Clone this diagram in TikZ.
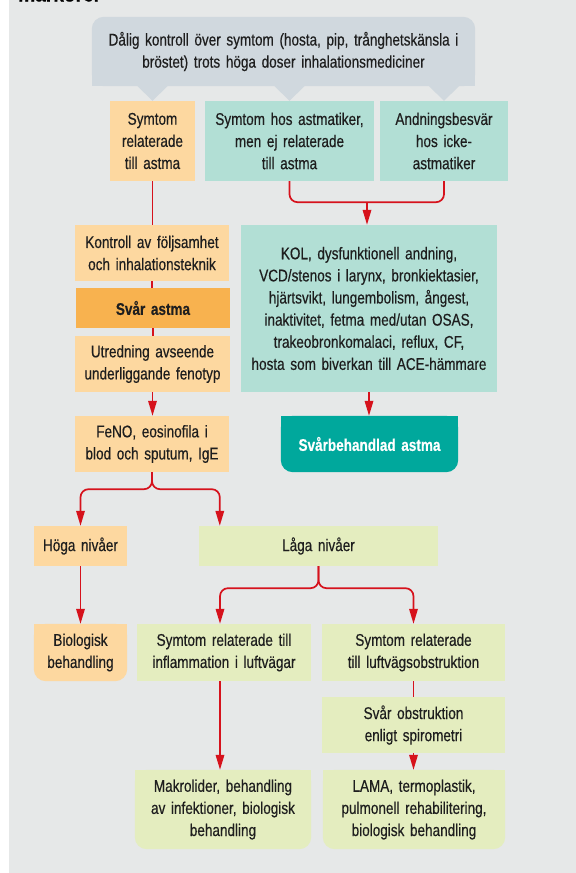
\documentclass[tikz,border=0pt]{standalone}
\usepackage{fontspec}
\setmainfont{Liberation Sans}[FakeStretch=0.8,FakeBold=0.4,WordSpace=0.75]
\usetikzlibrary{arrows.meta,backgrounds}
\definecolor{bggray}{HTML}{E6E8E8}
\definecolor{bubble}{HTML}{D0D8DE}
\definecolor{peach}{HTML}{FDD8A0}
\definecolor{amber}{HTML}{F8B24F}
\definecolor{mint}{HTML}{B2DFD5}
\definecolor{sea}{HTML}{00A89C}
\definecolor{lime}{HTML}{E4EDBF}
\definecolor{linkred}{HTML}{D6121C}
\definecolor{ink}{HTML}{1E1E1E}
\begin{document}
\begin{tikzpicture}[x=1bp,y=-1bp,
    box/.style 2 args={inner sep=2bp,align=center,text=ink,
      minimum width=#1bp,minimum height=#2bp,text width=\dimexpr#1bp-4bp\relax,
      font=\fontsize{17}{22.2}\selectfont},
    link/.style={draw=linkred,line width=1.7bp},
    arr/.style={link,-{Triangle[length=15bp,width=8.5bp]}}]
    \useasboundingbox (0,0) rectangle (576,873);
    \begin{scope}
      \clip (0,0) rectangle (576,873);
      \node[anchor=base west,inner sep=0pt,font=\bfseries\fontsize{24}{24}\selectfont] (title) at (18,1.5) {markörer};
    \end{scope}
    \node[box={383}{69}] (dalig) at (283.5,51.5)
      {Dålig kontroll över symtom (hosta, pip, trånghetskänsla i\\ bröstet) trots höga doser inhalationsmediciner};
    \node[box={85}{80},fill=peach] (relast) at (152.5,141) {Symtom\\ relaterade\\ till astma};
    \node[box={169}{80},fill=mint] (ejrel) at (289.5,141) {Symtom hos astmatiker,\\ men ej relaterade\\ till astma};
    \node[box={128}{80},fill=mint] (icke) at (444,141) {Andningsbesvär\\ hos icke-\\ astmatiker};
    \node[box={154}{56},fill=peach] (kontroll) at (152,253) {Kontroll av följsamhet\\ och inhalationsteknik};
    \node[box={154}{40},fill=amber,font=\bfseries\fontsize{17}{22.2}\selectfont] (svar) at (153,308) {Svår astma};
    \node[box={155}{56},fill=peach] (utred) at (152.5,364) {Utredning avseende\\ underliggande fenotyp};
    \node[box={154}{56},fill=peach] (feno) at (152,444) {FeNO, eosinofila i\\ blod och sputum, IgE};
    \node[box={256}{167},fill=mint] (kol) at (369,308.5)
      {KOL, dysfunktionell andning,\\ VCD/stenos i larynx, bronkiektasier,\\ hjärtsvikt, lungembolism, ångest,\\
       inaktivitet, fetma med/utan OSAS,\\ trakeobronkomalaci, reflux, CF,\\ hosta som biverkan till ACE-hämmare};
    \node[box={177}{56},text=white,font=\bfseries\fontsize{17}{22.2}\selectfont] (svarbeh) at (369.5,444) {Svårbehandlad astma};
    \node[box={93}{40},fill=peach] (hoga) at (80.5,546) {Höga nivåer};
    \node[box={239}{40},fill=lime] (laga) at (318.5,546) {Låga nivåer};
    \node[box={93}{57}] (bio) at (80.5,652.5) {Biologisk\\ behandling};
    \node[box={174}{57},fill=lime] (infl) at (224,652.5) {Symtom relaterade till\\ inflammation i luftvägar};
    \node[box={183}{57},fill=lime] (obstr) at (413.5,652.5) {Symtom relaterade\\ till luftvägsobstruktion};
    \node[box={183}{56},fill=lime] (svobs) at (413.5,725) {Svår obstruktion\\ enligt spirometri};
    \node[box={176}{79}] (makro) at (223,809.5) {Makrolider, behandling\\ av infektioner, biologisk\\ behandling};
    \node[box={182}{79}] (lama) at (414,809.5) {LAMA, termoplastik,\\ pulmonell rehabilitering,\\ biologisk behandling};
    \coordinate (merge) at (367,202);
    \draw[link] (relast.south) -- (relast.south |- kontroll.north);
    \draw[link] (kontroll.south) -- (kontroll.south |- svar.north);
    \draw[link] (svar.south) -- (svar.south |- utred.north);
    \draw[arr] (utred.south) -- (utred.south |- feno.north);
    \draw[link,rounded corners=8bp] (ejrel.south) -- ++(0,21) -| (icke.south);
    \draw[arr] (merge) -- (merge |- kol.north);
    \draw[arr] (kol.south) -- (kol.south |- svarbeh.north);
    \draw[arr,rounded corners=8bp] (feno.south) -- ++(0,17) -| (hoga.north);
    \draw[arr,rounded corners=8bp] (feno.south) -- ++(0,17) -| ([xshift=21bp]laga.north west);
    \draw[arr] (hoga.south) -- (bio.north);
    \draw[arr,rounded corners=8bp] (laga.south) -- ++(0,22) -| ([xshift=-4bp]infl.north);
    \draw[arr,rounded corners=8bp] (laga.south) -- ++(0,22) -| (obstr.north);
    \draw[arr] ([xshift=-4bp]infl.south) -- ([xshift=-4bp]infl.south |- makro.north);
    \draw[link] (obstr.south) -- (obstr.south |- svobs.north);
    \draw[arr] (svobs.south) -- (svobs.south |- lama.north);
    \begin{scope}[on background layer]
      \fill[bggray] (9,0) rectangle (576,873);
      \fill[bubble,rounded corners=12bp] (dalig.north west) rectangle (dalig.south east);
      \fill[bubble] (dalig.west) rectangle (dalig.south east);
      \foreach \n in {relast,ejrel,icke}
        \fill[bubble] ([xshift=-15bp]\n.north |- dalig.south) -- ([xshift=15bp]\n.north |- dalig.south) -- (\n.north) -- cycle;
      \foreach \n/\c in {bio/peach,makro/lime,lama/lime,svarbeh/sea} {
        \fill[\c,rounded corners=12bp] (\n.north west) rectangle (\n.south east);
        \fill[\c] (\n.north west) rectangle (\n.east);
      }
    \end{scope}
\end{tikzpicture}
\end{document}
